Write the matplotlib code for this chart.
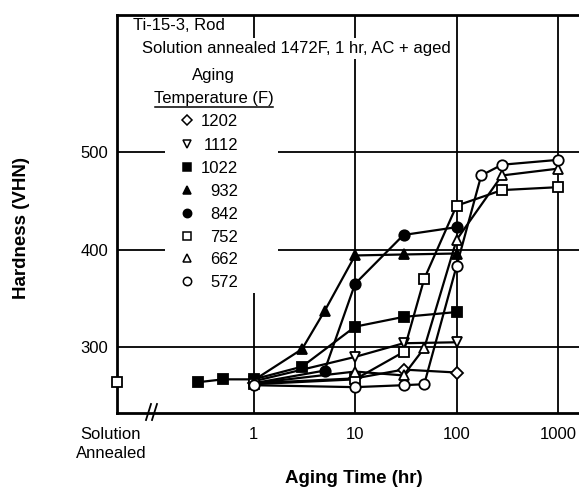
import matplotlib
matplotlib.use("Agg")
import matplotlib.pyplot as plt
from matplotlib.lines import Line2D
from matplotlib.patches import Rectangle

plt.rcParams["font.family"] = ["Liberation Sans", "DejaVu Sans"]

# ---- data -------------------------------------------------------------
temps = ["1202", "1112", "1022", "932", "842", "752", "662", "572"]
markers = ["D", "v", "s", "^", "o", "s", "^", "o"]
filled = [False, False, True, True, True, False, False, False]

t_1202 = [1, 10, 30, 100]
h_1202 = [263, 268, 277, 274]
t_1112 = [1, 10, 30, 100]
h_1112 = [265, 290, 304, 305]
t_1022 = [0.28, 0.5, 1, 3, 10, 30, 100]
h_1022 = [264, 267, 267, 280, 321, 331, 336]
t_932 = [1, 3, 5, 10, 30, 100]
h_932 = [266, 298, 337, 394, 395, 396]
t_842 = [1, 5, 10, 30, 100]
h_842 = [263, 276, 365, 415, 423]
t_752 = [1, 10, 30, 48, 100, 280, 1000]
h_752 = [262, 267, 295, 370, 445, 461, 464]
t_662 = [1, 10, 30, 48, 100, 280, 1000]
h_662 = [263, 275, 271, 299, 410, 476, 483]
t_572 = [1, 10, 30, 48, 100, 175, 280, 1000]
h_572 = [261, 259, 261, 262, 383, 476, 487, 492]

times = [t_1202, t_1112, t_1022, t_932, t_842, t_752, t_662, t_572]
hards = [h_1202, h_1112, h_1022, h_932, h_842, h_752, h_662, h_572]

x_sa = 0.045          # position used for the solution-annealed condition
h_sa = 264

x_ticks = [1, 10, 100, 1000]
x_labels = ["1", "10", "100", "1000"]
y_ticks = [300, 400, 500]

# ---- layout helpers (figure pixels) ------------------------------------
W, H = 579, 490


def fx(x):
    return x / W


def fy(y):
    return 1 - y / H


fig = plt.figure(figsize=(W / 100, H / 100), dpi=100)
ax = fig.add_axes([fx(117), fy(413), fx(579) - fx(117), fy(15) - fy(413)])

ax.set_xscale("log")
ax.set_xlim(x_sa, 1610)
ax.set_ylim(232.5, 640.5)

for s in ["left", "bottom", "top"]:
    ax.spines[s].set_linewidth(2.0)
ax.spines["right"].set_visible(False)

ax.set_xticks(x_ticks)
ax.set_xticklabels(x_labels)
ax.xaxis.set_minor_locator(matplotlib.ticker.NullLocator())
ax.set_yticks(y_ticks)
ax.tick_params(axis="both", length=0, labelsize=12)
ax.tick_params(axis="x", pad=10)
ax.tick_params(axis="y", pad=6.5)

# grid
for xv in x_ticks:
    ax.axvline(xv, color="black", lw=1.3, zorder=1)
for yv in y_ticks:
    ax.axhline(yv, color="black", lw=1.3, zorder=1)

# white area behind the legend block
ax.add_patch(Rectangle((fx(165), fy(293)), fx(278) - fx(165), fy(56) - fy(293),
                       transform=fig.transFigure, facecolor="white",
                       edgecolor="none", zorder=1.5))

# series
for t, h, m, f in zip(times, hards, markers, filled):
    ms = 6.5 if m == "D" else 7.5
    ax.plot(t, h, color="black", lw=1.6, marker=m, markersize=ms,
            markerfacecolor="black" if f else "white",
            markeredgecolor="black", markeredgewidth=1.3, zorder=3)

# solution annealed reference point
ax.plot([x_sa], [h_sa], marker="s", markersize=7.5, markerfacecolor="white",
        markeredgecolor="black", markeredgewidth=1.3, clip_on=False, zorder=5)

ax.annotate("Solution\nAnnealed", xy=(x_sa, 0), xycoords=("data", "axes fraction"),
            xytext=(-6, -14), textcoords="offset pixels", ha="center", va="top",
            multialignment="center", fontsize=12, linespacing=1.3)

# axis break marks
for x0 in (146, 152):
    fig.add_artist(Line2D([fx(x0), fx(x0 + 5)], [fy(420), fy(404)],
                          transform=fig.transFigure, color="black", lw=1.3))

# axis titles
fig.text(fx(22), fy(228), "Hardness (VHN)", rotation=90, ha="center",
         va="center", fontsize=13.5, fontweight="bold")
fig.text(fx(354), fy(478), "Aging Time (hr)", ha="center", va="center",
         fontsize=13.5, fontweight="bold")

# header text
fig.text(fx(133), fy(30.5), "Ti-15-3, Rod", ha="left", va="baseline",
         fontsize=12, zorder=4,
         bbox=dict(facecolor="white", edgecolor="none", pad=1))
fig.text(fx(142), fy(53), "Solution annealed 1472F, 1 hr, AC + aged",
         ha="left", va="baseline", fontsize=12, zorder=4,
         bbox=dict(facecolor="white", edgecolor="none", pad=2))
fig.text(fx(213), fy(80), "Aging", ha="center", va="baseline", fontsize=12)
fig.text(fx(214), fy(102.5), "Temperature (F)", ha="center", va="baseline",
         fontsize=12)
fig.add_artist(Line2D([fx(155), fx(273)], [fy(107), fy(107)],
                      transform=fig.transFigure, color="black", lw=1.1))

# legend entries
base_y = [126, 150, 173, 196, 219, 242, 264, 287]
for lab, m, f, by in zip(temps, markers, filled, base_y):
    fig.add_artist(Line2D([fx(187)], [fy(by - 6)], transform=fig.transFigure,
                          marker=m, markersize=5.0 if m == "D" else 6.0,
                          markerfacecolor="black" if f else "white",
                          markeredgecolor="black", markeredgewidth=1.1,
                          linestyle="none"))
    fig.text(fx(238), fy(by), lab, ha="right", va="baseline", fontsize=12)

fig.savefig("out.png", dpi=100)
